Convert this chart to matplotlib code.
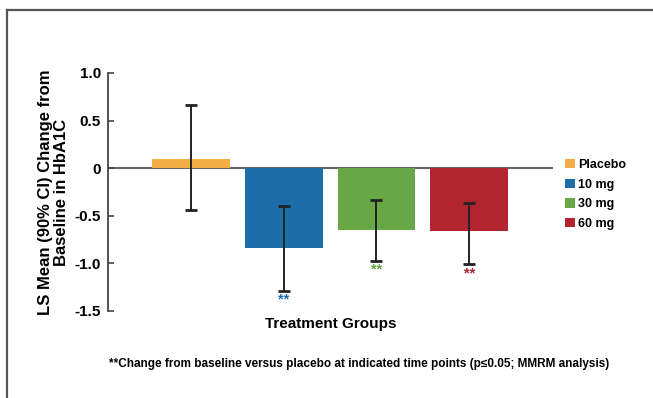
import matplotlib
matplotlib.use("Agg")
import matplotlib.pyplot as plt
from matplotlib.patches import Patch
from matplotlib.lines import Line2D

plt.rcParams['font.family'] = ['Liberation Sans', 'DejaVu Sans']
plt.rcParams['font.weight'] = 'bold'

groups = ["Placebo", "10 mg", "30 mg", "60 mg"]
means = [0.10, -0.84, -0.65, -0.66]
ci_low = [-0.44, -1.29, -0.97, -1.01]
ci_high = [0.66, -0.40, -0.33, -0.37]
significant = [False, True, True, True]
colors = ["#F4AC45", "#1C6EAB", "#67A746", "#B22430"]
yticks = [1.0, 0.5, 0, -0.5, -1.0, -1.5]
ytick_labels = ["1.0", "0.5", "0", "-0.5", "-1.0", "-1.5"]

fig = plt.figure(figsize=(6.53, 3.98), dpi=100)
ax = fig.add_axes([0.1654, 0.2186, 0.6816, 0.598])

x = list(range(len(groups)))
ax.bar(x, means, width=0.84, color=colors, zorder=2)
yerr_low = [m - l for m, l in zip(means, ci_low)]
yerr_high = [h - m for m, h in zip(means, ci_high)]
ax.errorbar(x, means, yerr=[yerr_low, yerr_high], fmt='none', ecolor='#222222',
            elinewidth=1.4, capsize=4, capthick=2, zorder=3)
ax.axhline(0, color='#666666', lw=1.5, zorder=1)

for xi, lo, sig, c in zip(x, ci_low, significant, colors):
    if sig:
        ax.text(xi, lo - 0.02, "**", color=c, ha='center', va='top',
                fontsize=10.5, fontweight='bold')

ax.set_xlim(-0.895, 3.905)
ax.set_ylim(-1.5, 1.0)
ax.set_yticks(yticks)
ax.set_yticklabels(ytick_labels, fontsize=11, fontweight='bold')
ax.set_xticks([])
for s in ['top', 'right', 'bottom']:
    ax.spines[s].set_visible(False)
ax.spines['left'].set_color('#444444')
ax.spines['left'].set_linewidth(1.3)
ax.tick_params(axis='y', direction='in', length=4, width=1.2, color='#444444', pad=5)

ax.set_ylabel("LS Mean (90% CI) Change from\nBaseline in HbA1C", fontsize=12,
              fontweight='bold', labelpad=4, linespacing=1.1)
ax.set_xlabel("Treatment Groups", fontsize=11, fontweight='bold', labelpad=4)

handles = [Patch(facecolor=c, edgecolor='none') for c in colors]
leg = ax.legend(handles, groups, loc='upper left', bbox_to_anchor=(1.016, 0.66),
                frameon=False, fontsize=9, handlelength=0.8, handleheight=0.8,
                handletextpad=0.25, labelspacing=0.6, borderaxespad=0)
for t in leg.get_texts():
    t.set_fontweight('bold')

fig.text(0.55, 0.085, "**Change from baseline versus placebo at indicated time points (p\u22640.05; MMRM analysis)",
         ha='center', va='center', fontsize=8.5, fontweight='bold')

fig.add_artist(Line2D([6.5/653, 1.0], [1 - 9.5/398, 1 - 9.5/398], transform=fig.transFigure,
                      color='#555555', lw=1.6))
fig.add_artist(Line2D([6.5/653, 6.5/653], [0, 1 - 9.5/398], transform=fig.transFigure,
                      color='#555555', lw=1.6))

fig.savefig("out.png", dpi=100)
